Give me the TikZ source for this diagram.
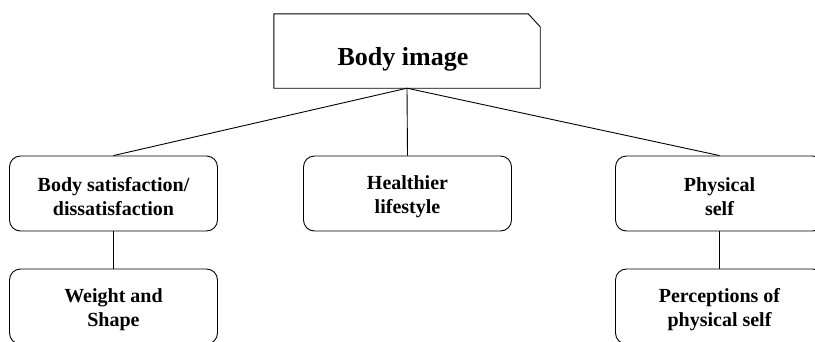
\documentclass[tikz,border=0pt]{standalone}
\usepackage{fontspec}
\setmainfont{Liberation Serif}
\begin{document}
\begin{tikzpicture}[x=1pt,y=-1pt,
  box/.style={draw, line width=0.9pt, rounded corners=11pt, minimum width=208pt, minimum height=75pt, inner sep=0pt},
  boxtext/.style={align=center, inner sep=0pt, font=\fontsize{20}{24}\selectfont\bfseries},
  topbox/.style={minimum width=266pt, minimum height=74pt, inner sep=0pt},
  toptext/.style={inner sep=0pt, font=\fontsize{26}{30}\selectfont\bfseries},
  link/.style={line width=0.9pt}]
\useasboundingbox (0,0) rectangle (815,341);
\clip (0,0) rectangle (815,341);
\node[topbox] (top) at (407,51) {};
\draw[line width=0.9pt] (top.north west) -- ([xshift=-12pt]top.north east) -- ([yshift=-13pt]top.north east) -- (top.south east) -- (top.south west) -- cycle;
\node[toptext, anchor=base] (toplabel) at (403,65) {Body image};
\node[box] (bs) at (113.5,193.5) {};
\node[box] (hl) at (407.5,193.5) {};
\node[box] (ps) at (719.5,193.5) {};
\node[box] (ws) at (113.5,306.5) {};
\node[box] (pp) at (719.5,306.5) {};
\node[boxtext] (bst) at ([yshift=-3pt]bs.center) {Body satisfaction/\\dissatisfaction};
\node[boxtext] (hlt) at ([yshift=-3pt]hl.center) {Healthier\\lifestyle};
\node[boxtext] (pst) at ([yshift=-3pt]ps.center) {Physical\\self};
\node[boxtext] (wst) at ([yshift=-3pt]ws.center) {Weight and\\Shape};
\node[boxtext] (ppt) at ([yshift=-3pt]pp.center) {Perceptions of\\physical self};
\draw[link] (top.south) -- (bs.north);
\draw[link] (top.south) -- (hl.north);
\draw[link] (top.south) -- (ps.north);
\draw[link] (bs.south) -- (ws.north);
\draw[link] (ps.south) -- (pp.north);
\end{tikzpicture}
\end{document}
